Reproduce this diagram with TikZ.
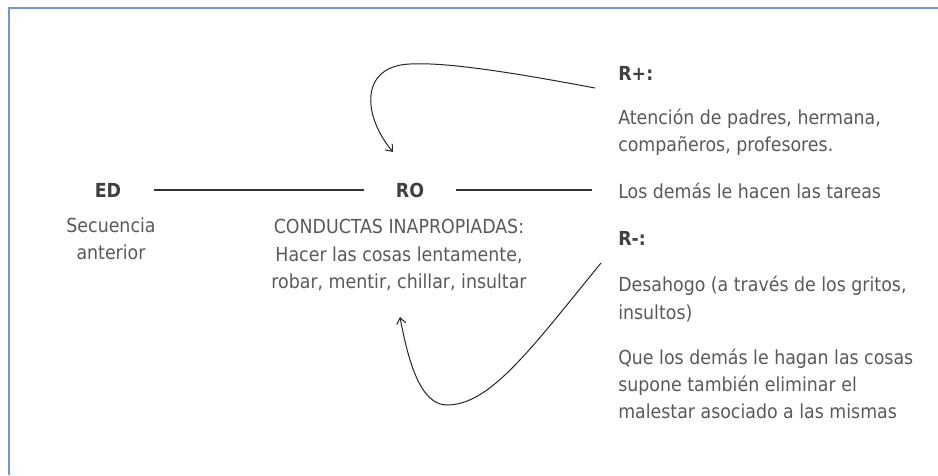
\documentclass[tikz,border=0pt]{standalone}
\usepackage{fontspec}
\setmainfont{DejaVu Sans Condensed}
\usepackage{xcolor}
\usepackage{tikz}
\usetikzlibrary{arrows,arrows.meta,positioning,calc}

\definecolor{textgray}{RGB}{89,89,89}
\definecolor{headgray}{RGB}{64,64,64}
\definecolor{frameblue}{RGB}{112,152,212}

\tikzset{
    body/.style={text=textgray, inner sep=0pt, font=\fontsize{14.5}{20.4}\selectfont},
    head/.style={text=headgray, inner sep=0pt, font=\fontsize{14.5}{20.4}\selectfont\bfseries},
    joinline/.style={draw=black!80, line width=0.9pt},
    curl/.style={draw=black!85, line width=0.75pt, -{Straight Barb[length=4.5pt,width=7pt]}}
}

\begin{document}
\begin{tikzpicture}[x=0.75pt, y=-0.75pt]
        \useasboundingbox (0,0) rectangle (938,475);
        % Frame (top and left edge only)
        \draw[frameblue, line width=2.2pt] (9,475) -- (9,8) -- (938,8);

        % Left: discriminative stimulus
        \node[head] (ed) at (108,190) {ED};
        \node[body, align=center] (sec) at (111,239) {Secuencia\\anterior};

        % Middle: operant response
        \node[head] (ro) at (410,190) {RO};
        \node[body, align=center] (cond) at (399,255) {CONDUCTAS INAPROPIADAS:\\Hacer las cosas lentamente,\\robar, mentir, chillar, insultar};

        % Right: consequences
        \node[head, anchor=west] (rplus) at (618,73) {R+:};
        \node[body, anchor=west, align=left] (aten) at (618,132) {Atención de padres, hermana,\\compañeros, profesores.};
        \node[body, anchor=west] (ldt) at (618,191) {Los demás le hacen las tareas};
        \node[head, anchor=west] (rminus) at (618,238) {R-:};
        \node[body, anchor=west, align=left] (desa) at (618,299) {Desahogo (a través de los gritos,\\insultos)};
        \node[body, anchor=west, align=left] (que) at (618,384) {Que los demás le hagan las cosas\\supone también eliminar el\\malestar asociado a las mismas};

        % Connecting lines
        \draw[joinline, shorten <=24.5pt, shorten >=23.5pt] (ed) -- (ro);
        \draw[joinline, shorten <=24pt, shorten >=19.5pt] (ro) -- (ro -| ldt.west);

        % Feedback arrows
        \coordinate (rpfrom) at (595,88);
        \coordinate (roabove) at (393,152);
        \coordinate (rmfrom) at (601,263);
        \coordinate (robelow) at (400,317);
        \draw[curl] (rpfrom) .. controls (510,72) and (445,62) .. (410,64)
            .. controls (360,66) and (362,115) .. (roabove);
        \draw[curl] (rmfrom) .. controls (530,350) and (490,405) .. (447,405)
            .. controls (420,405) and (408,360) .. (robelow);
    \end{tikzpicture}
\end{document}
